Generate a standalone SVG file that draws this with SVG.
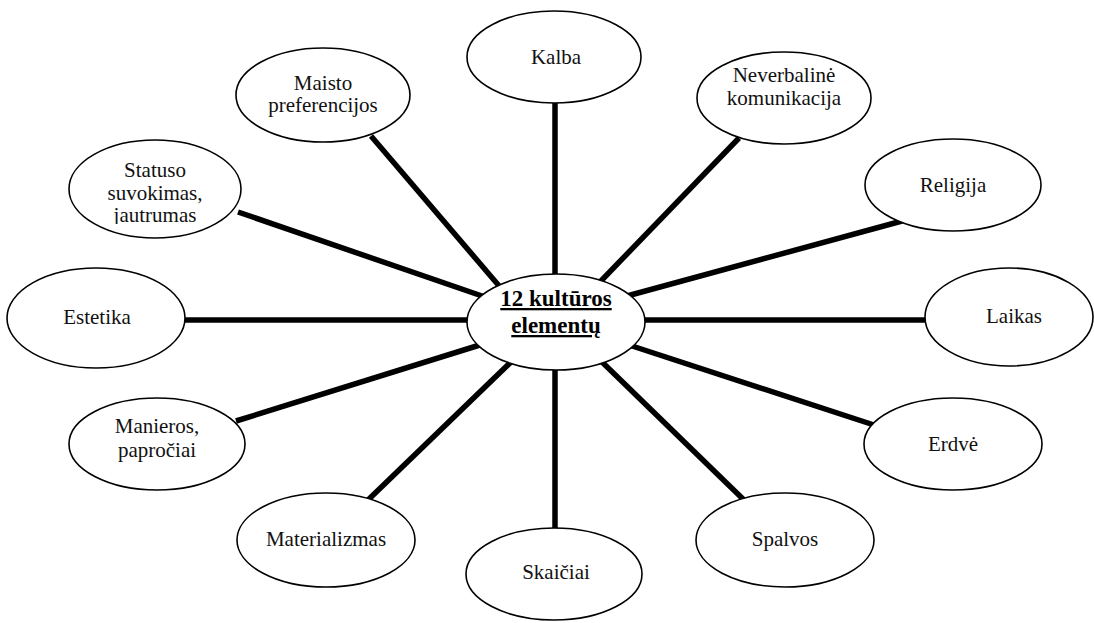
<svg xmlns="http://www.w3.org/2000/svg" width="1094" height="623" viewBox="0 0 1094 623">
  <style>
    .node ellipse { fill: #ffffff; stroke: #000000; stroke-width: 1.6; }
    .node text { font-family: "Liberation Serif", "Times New Roman", serif; font-size: 21px; fill: #111111; text-anchor: middle; }
    .hub text { font-family: "Liberation Serif", "Times New Roman", serif; font-size: 23px; font-weight: bold; fill: #000000; text-anchor: middle; text-decoration: underline; }
    #connectors line { stroke: #000000; stroke-width: 5.5; stroke-linecap: butt; }
  </style>
  <defs>
    <clipPath id="statusClip">
      <rect x="60" y="130" width="200" height="94"/>
    </clipPath>
  </defs>
  <rect width="1094" height="623" fill="#ffffff"/>

  <!-- spokes run slightly into each ellipse; the white fills hide the overlap -->
  <g id="connectors">
    <line x1="555" y1="96" x2="555" y2="280"/>
    <line x1="371" y1="136" x2="500" y2="287"/>
    <line x1="739" y1="138" x2="599" y2="283"/>
    <line x1="902" y1="221" x2="627" y2="296"/>
    <line x1="640" y1="320" x2="930" y2="320"/>
    <line x1="626" y1="344" x2="874" y2="425"/>
    <line x1="601" y1="361" x2="744" y2="500"/>
    <line x1="555" y1="365" x2="555" y2="533"/>
    <line x1="512" y1="361" x2="368" y2="500"/>
    <line x1="483" y1="344" x2="236" y2="421"/>
    <line x1="180" y1="320" x2="472" y2="320"/>
    <line x1="238" y1="212" x2="485" y2="297"/>
  </g>

  <g id="hub" class="node hub">
    <ellipse cx="556" cy="322" rx="89" ry="48"/>
    <text x="556" y="306">12 kultūros</text>
    <text x="556" y="333">elementų</text>
  </g>

  <g id="kalba" class="node">
    <ellipse cx="554" cy="57" rx="87" ry="46"/>
    <text x="556" y="64">Kalba</text>
  </g>

  <g id="maisto" class="node">
    <ellipse cx="323" cy="95" rx="87" ry="47"/>
    <text x="323" y="90">Maisto</text>
    <text x="323" y="112">preferencijos</text>
  </g>

  <g id="neverbaline" class="node">
    <ellipse cx="784" cy="98" rx="87" ry="46"/>
    <text x="784" y="82">Neverbalinė</text>
    <text x="784" y="105">komunikacija</text>
  </g>

  <g id="religija" class="node">
    <ellipse cx="953" cy="185" rx="88" ry="46"/>
    <text x="953" y="192">Religija</text>
  </g>

  <g id="laikas" class="node">
    <ellipse cx="1009" cy="317" rx="84" ry="49"/>
    <text x="1014" y="323">Laikas</text>
  </g>

  <g id="erdve" class="node">
    <ellipse cx="953" cy="444" rx="89" ry="46"/>
    <text x="953" y="451">Erdvė</text>
  </g>

  <g id="spalvos" class="node">
    <ellipse cx="785" cy="540" rx="89" ry="47"/>
    <text x="785" y="546">Spalvos</text>
  </g>

  <g id="skaiciai" class="node">
    <ellipse cx="554" cy="574" rx="88" ry="46"/>
    <text x="556" y="579">Skaičiai</text>
  </g>

  <g id="materializmas" class="node">
    <ellipse cx="326" cy="540" rx="89" ry="47"/>
    <text x="326" y="546">Materializmas</text>
  </g>

  <g id="manieros" class="node">
    <ellipse cx="157" cy="444" rx="88" ry="46"/>
    <text x="157" y="433">Manieros,</text>
    <text x="157" y="457">papročiai</text>
  </g>

  <g id="estetika" class="node">
    <ellipse cx="96" cy="318" rx="89" ry="50"/>
    <text x="97" y="324">Estetika</text>
  </g>

  <g id="statuso" class="node">
    <ellipse cx="155" cy="189" rx="86" ry="49"/>
    <text x="155" y="177">Statuso</text>
    <text x="155" y="200">suvokimas,</text>
    <text x="155" y="222" clip-path="url(#statusClip)">jautrumas</text>
  </g>
</svg>
